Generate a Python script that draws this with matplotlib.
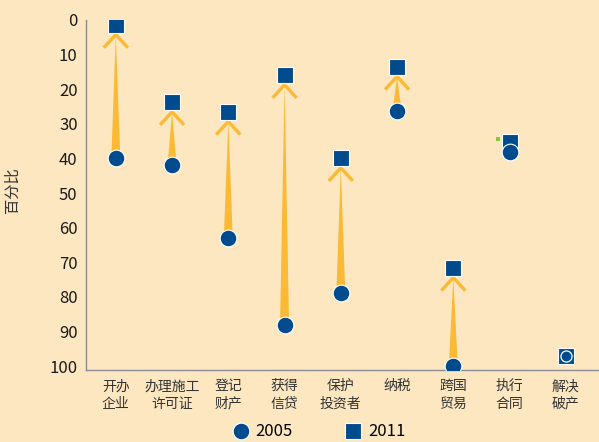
import matplotlib.pyplot as plt

plt.rcParams['font.family'] = ['Noto Sans CJK SC', 'DejaVu Sans']

categories = ['开办\n企业', '办理施工\n许可证', '登记\n财产', '获得\n信贷', '保护\n投资者',
              '纳税', '跨国\n贸易', '执行\n合同', '解决\n破产']
val_2005 = [40, 42, 63, 88, 79, 26.3, 100, 38.2, 97.1]
val_2011 = [1.5, 23.8, 26.6, 16, 40, 13.6, 71.7, 35.3, 97.1]
show_arrow = [True, True, True, True, True, True, True, False, False]
inside = [False, False, False, False, False, False, False, False, True]

bg = '#fde7c1'
navy = '#004b8d'
gold = '#fbb934'

W, H = 599, 442
fig = plt.figure(figsize=(W / 100, H / 100), dpi=100, facecolor=bg)
ax_l, ax_b, ax_w, ax_h = 86, 72.5, 513, 349.5
ax = fig.add_axes([ax_l / W, ax_b / H, ax_w / W, ax_h / H], facecolor=bg)

x = list(range(len(categories)))
ax.set_xlim(-0.53, 8.59)
ax.set_ylim(101, 0)

# pixel -> data unit helpers
px_x = 9.12 / ax_w
px_y = 101 / ax_h

for i in x:
    if not show_arrow[i]:
        continue
    apex = val_2011[i] + 9.5 * px_y
    base = val_2005[i]
    hw = 4.5 * px_x
    ax.fill([i - hw, i + hw, i], [base, base, apex], color=gold, lw=0, zorder=2)
    ax.plot([i - 12 * px_x, i, i + 12 * px_x],
            [apex + 13 * px_y, apex, apex + 13 * px_y],
            color=gold, lw=2.4, solid_joinstyle='miter', solid_capstyle='butt', zorder=2)

# small green mark next to 执行合同
ax.plot([7 - 0.2], [val_2011[7] - 0.9], marker='s', ms=3.5, color='#8cc63f', mew=0, zorder=3)

ax.plot(x, val_2011, 's', ms=11.5, color=navy, mec='white', mew=0.8, zorder=4, label='2011')
xo = [i for i in x if not inside[i]]
ax.plot(xo, [val_2005[i] for i in xo], 'o', ms=12, color=navy, mec='white', mew=0.8,
        zorder=5, label='2005')
xi = [i for i in x if inside[i]]
ax.plot(xi, [val_2005[i] for i in xi], 'o', ms=8, color=navy, mec='white', mew=0.9, zorder=6)

ax.set_yticks(range(0, 101, 10))
ax.set_xticks(x)
ax.set_xticklabels(categories, fontsize=10, linespacing=1.3, color='#333333')
ax.tick_params(axis='y', length=0, pad=6, labelsize=12, labelcolor='#1a1a1a')
ax.tick_params(axis='x', length=0, pad=7)

for s in ['top', 'right']:
    ax.spines[s].set_visible(False)
for s in ['left', 'bottom']:
    ax.spines[s].set_color('#8a8a96')
    ax.spines[s].set_linewidth(1)

fig.text(12 / W, 1 - 190 / H, '百分比', rotation=90, fontsize=11, va='center', ha='center',
         color='#333333')

handles, labels = ax.get_legend_handles_labels()
fig.legend(handles[::-1], labels[::-1], loc='center', bbox_to_anchor=(318 / W, 1 - 432 / H),
           ncol=2, frameon=False, fontsize=12, handletextpad=0.3, columnspacing=3.0,
           handlelength=1.2)

fig.savefig('out.png', dpi=100, facecolor=bg)
